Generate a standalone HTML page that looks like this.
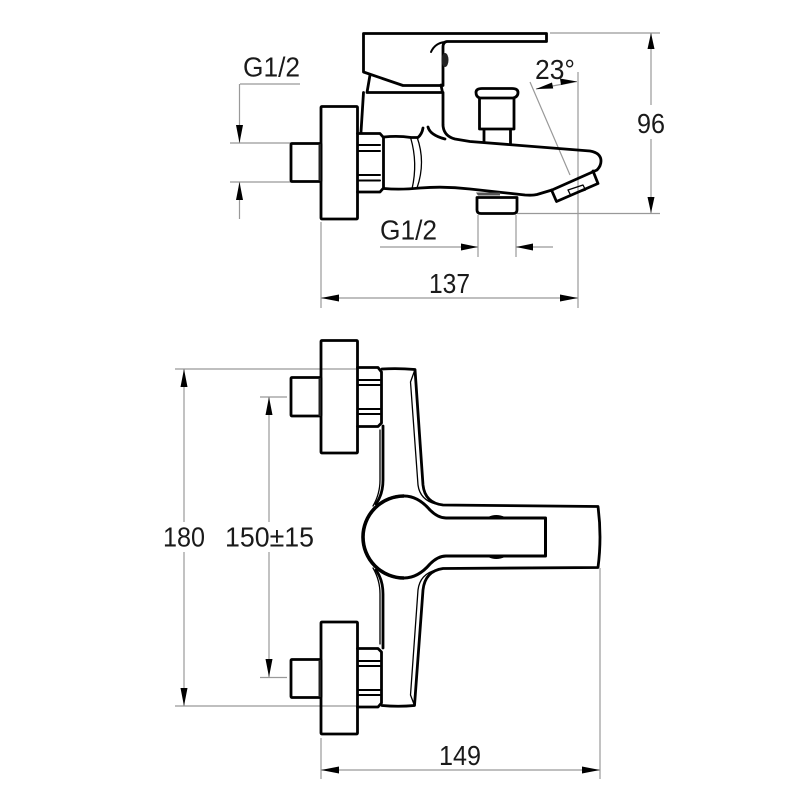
<!DOCTYPE html>
<html><head><meta charset="utf-8"><style>
html,body{margin:0;padding:0;background:#fff}
svg{display:block}
text{font-family:"Liberation Sans",sans-serif;font-size:27.500px;fill:#1a1a1a}
.t{fill:none;stroke:#999;stroke-width:1.2}
.k{fill:none;stroke:#000;stroke-width:2.800;stroke-linejoin:round;stroke-linecap:round}
.m{fill:none;stroke:#000;stroke-width:2;stroke-linejoin:round;stroke-linecap:round}
.n{fill:none;stroke:#000;stroke-width:1.300;stroke-linejoin:round;stroke-linecap:round}
.a{fill:#000;stroke:none}
</style></head><body>
<svg width="800" height="800" viewBox="0 0 800 800" xmlns="http://www.w3.org/2000/svg">
<rect width="800" height="800" fill="#fff"/>
<!-- thin dimension lines -->
<path class="t" d="M550 33H660M517 213.500H660M651 33V105M651 139V213M240 84H300M239.500 84V143M239.500 182V219M230 143H291M230 182H291M321 222V308M578 72V308M530 82L570 175M536 89L577 81.500M380 247H478M516 247H553M478 215V257M516 215V257M321 298H578"/>
<path class="t" d="M175 369H357M175 706H357M184 369V522M184 552V706M260 397H287M260 677.500H287M269 397V522M269 552V677M321 738V779M600 568V779M321 770H600"/>
<!-- arrowheads -->
<path class="a" d="M651 33l-3.500 16h7zM651 213l-3.500 -16h7zM239.500 143l-3.500 -18h7zM239.500 182l-3.500 18h7zM478 247l-17 -3.500v7zM516 247l17 -3.500v7zM321 298l18 -3.500v7zM578 298l-18 -3.500v7zM536 89l16 -6.500l1.200 6zM577 81.500l-17 -3l1 6.500zM184 369l-3.500 18h7zM184 706l-3.500 -18h7zM269 397l-3.500 18h7zM269 677l-3.500 -18h7zM321 770l18 -3.500v7zM600 770l-18 -3.500v7z"/>
<!-- TOP VIEW -->
<rect class="k" x="321" y="106.500" width="36.500" height="112.500" rx="1"/>
<rect class="k" x="291" y="143.500" width="30" height="38" rx="1"/>
<path d="M318.500 144h2.500v37h-2.500z" fill="#222"/>
<path class="k" d="M357.500 133.500H380L383.500 137.500V188L380 192H357.500"/>
<path class="m" d="M358 145H380M358 151H380M358 175H380M358 180.500H380"/>
<path class="k" d="M363.500 33.500H546.500V41.500H447Q443 42 443 47V85.500H403L363.500 72Z"/>
<path class="m" d="M431 52Q435 43 445 42"/>
<ellipse cx="445" cy="60" rx="3.500" ry="7" fill="#222"/>
<path class="k" d="M370 75L367 92.500H442.500L441 85M363.500 92.500L361 132"/>
<path class="k" d="M443 92.500V125Q443.500 136 455 139L470 141.500L590 151Q601 153 601 161Q601 166 597 170L552 190L537 194.500Q533 195.500 525 195L470 189Q445 186 420 188Q400 190 384 188.500"/>
<path class="k" d="M384 137Q398 135.500 411 137.500L418 137.500Q422 134 423 128M428 127Q430 135 445 139"/>
<path class="n" d="M410.700 138Q418 163 412 189M417 137Q426 162 417 188"/>
<path class="k" d="M551.500 190L556.500 201.500L598 183.500L593 171"/>
<path class="n" d="M568 190L583 185L585.500 190L570.500 195Z"/>
<path class="k" d="M477 197.500H517V210Q517 213.500 513 213.500H481Q477 213.500 477 210Z"/>
<path d="M476 192.500H500V195.500H478Z" fill="#555"/>
<path class="k" d="M480 98H513Q518 97 518 92.500Q518 88.500 512 88.500H482Q476 88.500 476 92.500Q476 97 480 98ZM479.500 98V129H514V98M484 129V142M510.500 129V144"/>
<!-- BOTTOM VIEW -->
<rect class="k" x="321" y="340.500" width="36.500" height="112.500" rx="1"/>
<rect class="k" x="291" y="377.500" width="30" height="38.500" rx="1"/>
<path d="M318.500 378h2.500v38h-2.500z" fill="#222"/>
<path class="k" d="M357.500 367.500H378L381.500 372V423L378 426.500H357.500"/>
<path class="m" d="M358 380H380M358 385H380M358 409H380M358 414H380"/>
<rect class="k" x="321" y="622" width="36.500" height="112" rx="1"/>
<rect class="k" x="291" y="659.500" width="30" height="38" rx="1"/>
<path d="M318.500 660h2.500v37h-2.500z" fill="#222"/>
<path class="k" d="M357.500 648.500H378L381.500 652V703L378 707H357.500"/>
<path class="m" d="M358 661H380M358 666H380M358 690H380M358 695H380"/>
<path class="k" d="M382 369Q398 368 415 369.500L423 485Q425 503 443 505L598 506.500Q602 537 598 567.500L443 568.500Q425 571 423 590L414.500 705.500Q398 707 382 705.500"/>
<path class="k" d="M383 426V480Q383 494 376 504M383 648V594Q383 580 376 570"/>
<path class="n" d="M415 369.500L410.500 382L418 485Q420 500 436 504M414.500 705.500L410.500 695L418 590Q420 574 436 570M380 430V480Q380 494 373 506M380 644V594Q380 580 373 568"/>
<path d="M446 518H545.500V556H446Q438 556 430 564Q418 578 404 578A41 41 0 1 1 404 496Q418 496 430 510Q438 518 446 518Z" fill="#fff" stroke="#000" stroke-width="3" stroke-linejoin="round"/>
<path d="M404 496A41 41 0 0 0 404 578" fill="none" stroke="#000" stroke-width="3.600"/>
<path class="a" d="M488 517Q496 513 505 517ZM488 557Q496 561 505 557Z"/>
<!-- labels -->
<text x="243" y="76.500" textLength="57" lengthAdjust="spacingAndGlyphs">G1/2</text>
<text x="380" y="239.500" textLength="57" lengthAdjust="spacingAndGlyphs">G1/2</text>
<text x="535" y="79" textLength="40" lengthAdjust="spacingAndGlyphs">23°</text>
<text x="637" y="133" textLength="28" lengthAdjust="spacingAndGlyphs">96</text>
<text x="429" y="293" textLength="41" lengthAdjust="spacingAndGlyphs">137</text>
<text x="163" y="546.500" textLength="42" lengthAdjust="spacingAndGlyphs">180</text>
<text x="225" y="546.500" textLength="89" lengthAdjust="spacingAndGlyphs">150±15</text>
<text x="439" y="765" textLength="42" lengthAdjust="spacingAndGlyphs">149</text>
</svg>
</body></html>
